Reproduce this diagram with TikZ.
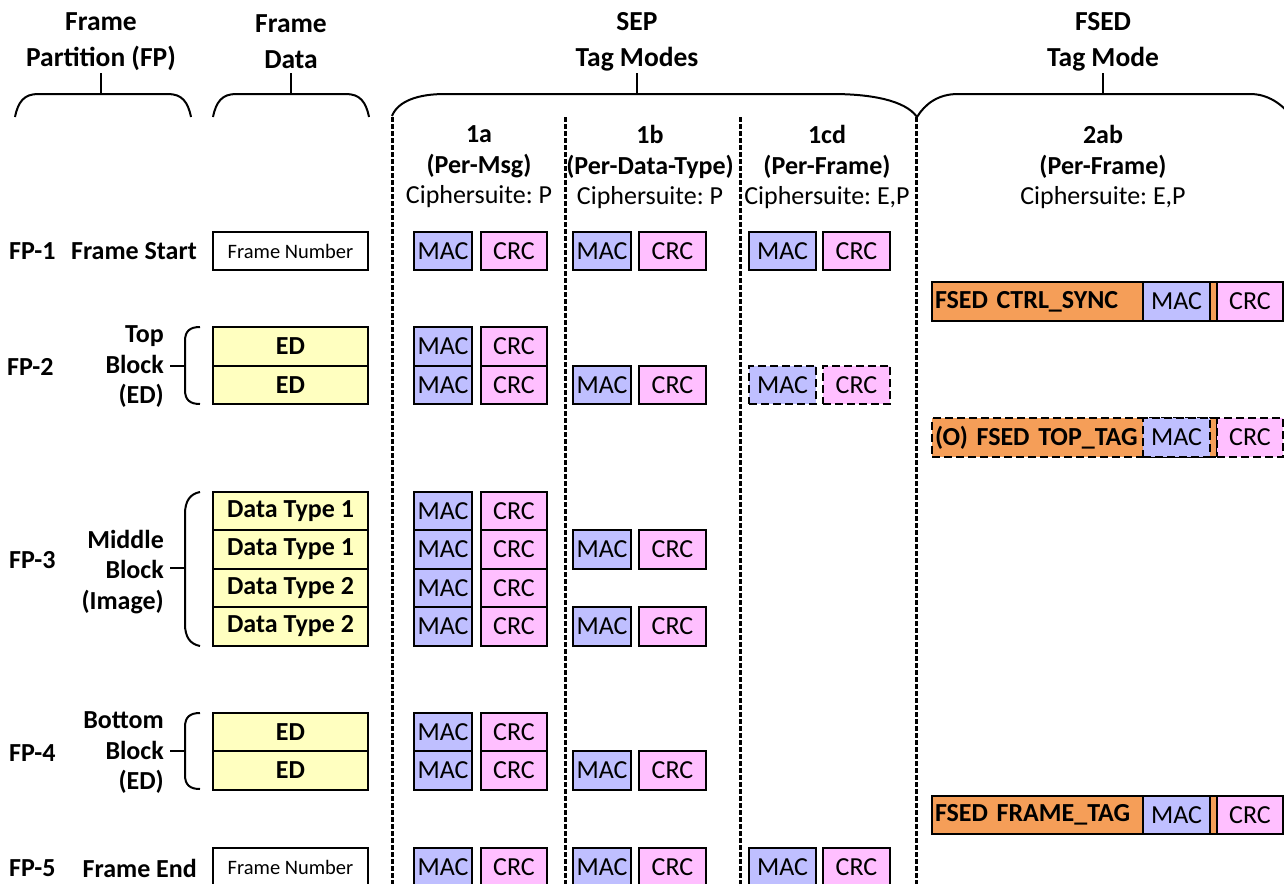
\documentclass[tikz,border=0pt]{standalone}
\usepackage{fontspec}
\setmainfont{Carlito}
\definecolor{macblue}{RGB}{191,191,255}
\definecolor{crcpink}{RGB}{255,191,255}
\definecolor{edyellow}{RGB}{255,255,192}
\definecolor{fsedorange}{RGB}{245,158,88}
\begin{document}
\frenchspacing
\begin{tikzpicture}[x=1pt,y=-1pt,
  fhead/.style={font=\fontsize{27.5}{36}\selectfont\bfseries, align=center, inner sep=0pt},
  colhead/.style={font=\fontsize{26}{30.5}\selectfont, align=center, inner sep=0pt},
  lbl/.style={font=\fontsize{26}{30.5}\selectfont\bfseries, inner sep=0pt},
  blocklbl/.style={lbl, align=right, anchor=east},
  box/.style={draw=black, line width=2pt, inner sep=0pt, minimum height=38.5pt,
              font=\fontsize{26}{30}\selectfont},
  mac/.style={box, fill=macblue, minimum width=58pt},
  macw/.style={mac, minimum width=67pt},
  crc/.style={box, fill=crcpink, minimum width=66pt},
  crcw/.style={crc, minimum width=67pt},
  edbox/.style={box, fill=edyellow, minimum width=155pt, font=\fontsize{26}{30}\selectfont\bfseries},
  fnum/.style={box, fill=white, minimum width=155pt, font=\fontsize{20.5}{24}\selectfont},
  fsed/.style={box, fill=fsedorange, minimum width=285pt, text width=279pt, align=left,
               font=\fontsize{26}{30}\selectfont\bfseries},
  optional/.style={dash pattern=on 8pt off 4pt},
  brace/.style={line width=2pt},
  vbrace/.style={line width=2pt},
  divider/.style={line width=3pt, dash pattern=on 4.5pt off 2.5pt},
]
\useasboundingbox (0,0) rectangle (1284,883);
\clip (0,0) rectangle (1284,883);

% ---------- top headings ----------
\node[fhead] (hFP)   at (101,42)  {Frame\\Partition (FP)};
\node[fhead] (hData) at (291,42)  {Frame\\Data};
\node[fhead] (hSEP)  at (637,42)  {SEP\\Tag Modes};
\node[fhead] (hFSED) at (1103,42) {FSED\\Tag Mode};

% ---------- horizontal braces under the headings ----------
\coordinate (kFP)   at (101,73);
\coordinate (kData) at (291,73);
\coordinate (kSEP)  at (637,73);
\coordinate (kFSED) at (1103,73);
\draw[brace] (15,117) .. controls (18,102) and (24,94) .. (38,94) -- (168,94)
             .. controls (182,94) and (188,102) .. (191,117);
\draw[brace] (101,94) -- (kFP);
\draw[brace] (213,117) .. controls (216,102) and (222,94) .. (236,94) -- (346,94)
             .. controls (360,94) and (366,102) .. (369,117);
\draw[brace] (291,94) -- (kData);
\draw[brace] (392,116) .. controls (398,101) and (418,94) .. (445,94) -- (832,94)
             .. controls (870,94) and (905,100) .. (917,117);
\draw[brace] (637,94) -- (kSEP);
\draw[brace] (917,117) .. controls (925,104) and (938,94) .. (958,94) -- (1250,94)
             .. controls (1268,94) and (1282,104) .. (1292,117);
\draw[brace] (1103,94) -- (kFSED);

% ---------- column dividers ----------
\foreach \x/\n in {392/a,565/b,740/c,916/d}{
  \coordinate (dtop\n) at (\x,117);
  \coordinate (dbot\n) at (\x,890);
  \draw[divider] (dtop\n) -- (dbot\n);
}

% ---------- tag-mode column headings ----------
\node[colhead] (c1a)  at (479,167)  {\textbf{1a}\\\textbf{(Per-Msg)}\\Ciphersuite: P};
\node[colhead] (c1b)  at (650,167)  {\textbf{1b}\\\textbf{(Per-Data-Type)}\\Ciphersuite: P};
\node[colhead] (c1cd) at (827,167)  {\textbf{1cd}\\\textbf{(Per-Frame)}\\Ciphersuite: E,P};
\node[colhead] (c2ab) at (1103,167) {\textbf{2ab}\\\textbf{(Per-Frame)}\\Ciphersuite: E,P};

% ---------- frame partition labels ----------
\node[lbl, anchor=west] (fp1) at (9,251) {FP-1};
\node[lbl, anchor=west] (fp2) at (7,367) {FP-2};
\node[lbl, anchor=west] (fp3) at (9,560) {FP-3};
\node[lbl, anchor=west] (fp4) at (9,753) {FP-4};
\node[lbl, anchor=west] (fp5) at (9,868) {FP-5};

\node[lbl, anchor=east] (fstart) at (197,251) {Frame Start};
\node[lbl, anchor=east] (fend)   at (197,868) {Frame End};
\node[blocklbl] (btop) at (164,367) {Top\\Block\\(ED)};
\node[blocklbl] (bmid) at (164,572) {Middle\\Block\\(Image)};
\node[blocklbl] (bbot) at (164,753) {Bottom\\Block\\(ED)};

% ---------- side braces round the data blocks ----------
\draw[vbrace] (200,327) .. controls (190,327) and (185,331) .. (185,341) -- (185,390)
              .. controls (185,400) and (190,404) .. (200,404);
\coordinate (t2) at (185,366);
\draw[vbrace] (170,366) -- (t2);
\draw[vbrace] (200,492) .. controls (190,494) and (185,501) .. (185,514) -- (185,624)
              .. controls (185,637) and (190,644) .. (200,646);
\coordinate (t3) at (185,568);
\draw[vbrace] (170,568) -- (t3);
\draw[vbrace] (200,713) .. controls (190,713) and (185,717) .. (185,727) -- (185,775)
              .. controls (185,785) and (190,789) .. (200,789);
\coordinate (t4) at (185,751);
\draw[vbrace] (170,751) -- (t4);

% ---------- frame data ----------
\node[fnum]  (d1)  at (290.5,251)   {Frame Number};
\node[edbox] (d2a) at (290.5,346.5) {ED};
\node[edbox] (d2b) at (290.5,385)   {ED};
\node[edbox] (d3a) at (290.5,511)   {Data Type 1};
\node[edbox] (d3b) at (290.5,549.5) {Data Type 1};
\node[edbox] (d3c) at (290.5,588)   {Data Type 2};
\node[edbox] (d3d) at (290.5,626.5) {Data Type 2};
\node[edbox] (d4a) at (290.5,732)   {ED};
\node[edbox] (d4b) at (290.5,770.5) {ED};
\node[fnum]  (d5)  at (290.5,867)   {Frame Number};

% ---------- mode 1a: one tag per message ----------
\foreach \y/\n in {251/1,346.5/2a,385/2b,511/3a,549.5/3b,588/3c,626.5/3d,732/4a,770.5/4b,867/5}{
  \node[mac] (am\n) at (443,\y) {MAC};
  \node[crc] (ac\n) at (514,\y) {CRC};
}

% ---------- mode 1b: one tag per data type ----------
\foreach \y/\n in {251/1,385/2b,549.5/3b,626.5/3d,770.5/4b,867/5}{
  \node[mac] (bm\n) at (602,\y) {MAC};
  \node[crcw] (bc\n) at (672.5,\y) {CRC};
}

% ---------- mode 1cd: one tag per frame ----------
\node[macw] (cm1) at (782.5,251) {MAC};
\node[crcw] (cc1) at (856.5,251) {CRC};
\node[macw, optional] (cm2) at (782.5,385) {MAC};
\node[crcw, optional] (cc2) at (856.5,385) {CRC};
\node[macw] (cm5) at (782.5,867) {MAC};
\node[crcw] (cc5) at (856.5,867) {CRC};

% ---------- mode 2ab: FSED messages ----------
\node[fsed] (fs1) at (1074.5,301.5) {FSED CTRL\_SYNC};
\node[macw] (fm1) at (1176.5,301.5) {MAC};
\node[crc]  (fc1) at (1250,301.5)   {CRC};

\node[fsed, optional] (fs2) at (1074.5,437.5) {(O) FSED TOP\_TAG};
\node[macw, optional] (fm2) at (1176.5,437.5) {MAC};
\node[crc, optional]  (fc2) at (1250,437.5)   {CRC};

\node[fsed] (fs3) at (1074.5,815) {FSED FRAME\_TAG};
\node[macw] (fm3) at (1176.5,815) {MAC};
\node[crc]  (fc3) at (1250,815)   {CRC};
\end{tikzpicture}
\end{document}
